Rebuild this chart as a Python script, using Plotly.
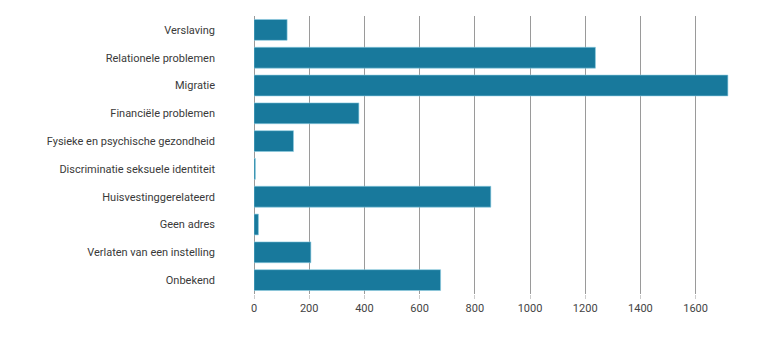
import plotly.graph_objects as go

categories = ["Verslaving", "Relationele problemen", "Migratie", "Financiële problemen",
              "Fysieke en psychische gezondheid", "Discriminatie seksuele identiteit",
              "Huisvestinggerelateerd", "Geen adres", "Verlaten van een instelling", "Onbekend"]
values = [120, 1237, 1717, 380, 143, 5, 858, 16, 206, 676]
tick_vals = [0, 200, 400, 600, 800, 1000, 1200, 1400, 1600]

fig = go.Figure(go.Bar(
    x=values, y=categories, orientation="h",
    marker=dict(color="#18799c", line=dict(color="#8ccbe0", width=0.6)),
))

fig.update_layout(
    width=752, height=351,
    margin=dict(l=246, r=23, t=8, b=65),
    paper_bgcolor="white", plot_bgcolor="white",
    font=dict(family="Roboto", size=11, color="#3a3a3a"),
    bargap=0.25,
    showlegend=False,
)
fig.update_xaxes(
    range=[0, 1750], tickvals=tick_vals, showgrid=True, gridcolor="#9a9a9a", gridwidth=1,
    zeroline=True, zerolinecolor="#9a9a9a", zerolinewidth=1,
    ticks="outside", ticklen=4, tickcolor="#cccccc", automargin=False,
    tickfont=dict(color="#444444", size=11), showline=False,
)
fig.update_yaxes(
    autorange="reversed", showgrid=False, ticks="", ticklabelstandoff=38, automargin=False,
    tickfont=dict(color="#3a3a3a", size=11),
)

fig.write_html("out.html")
